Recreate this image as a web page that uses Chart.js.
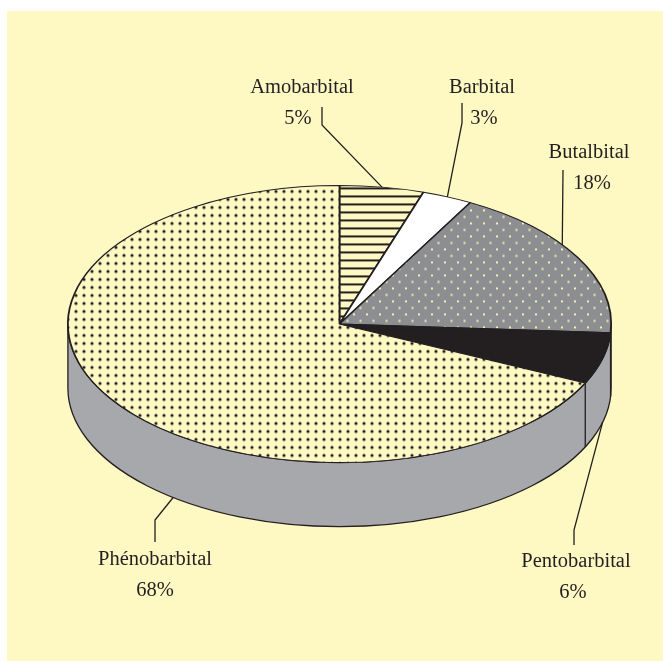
<!DOCTYPE html>
<html>
<head>
<meta charset="utf-8">
<script src="https://cdn.jsdelivr.net/npm/chart.js@4"></script>
<style>
  body { margin: 0; background: #fff; }
  canvas { display: block; }
</style>
</head>
<body>
<canvas id="pie" width="663" height="661"></canvas>
<script>
// données (pourcentages)
const categories = ["Amobarbital", "Barbital", "Butalbital", "Pentobarbital", "Phénobarbital"];
const values = [5, 3, 18, 6, 68];

// mise en page des étiquettes : texte, coude du trait, point d'accroche dans la part
const labelX = [302, 482, 589, 576, 155];
const labelY = [93, 93, 158, 567, 565];
const pctX = [298, 484, 592, 573, 155];
const elbows = [
  [[322, 107], [322, 125]],
  [[462, 103], [462, 123]],
  [[563, 170]],
  [[574, 545], [574, 530]],
  [[155, 542], [155, 520]]
];
const anchorFrac = [0.5, 0.5, 0.406, 0.5, 0.419];
const anchorOnSide = [false, false, false, true, true];

const JAUNE = "#fef8c3";
const NOIR = "#231f20";
const GRIS_COTE = "#a7a8ac";
const GRIS_PART = "#8c8e92";
const CY = 324;          // centre vertical de l'ellipse à l'écran
const TILT = 139 / 272.5; // écrasement vertical
const DEPTH = 64;        // épaisseur du camembert

function motif(w, h, dessin) {
  const c = document.createElement("canvas");
  c.width = w; c.height = h;
  const g = c.getContext("2d");
  dessin(g, w, h);
  const p = g.createPattern(c, "repeat");
  // compenser l'écrasement pour garder des motifs réguliers
  p.setTransform(new DOMMatrix([1, 0, 0, 1 / TILT, 0, 0]));
  return p;
}

const rayures = motif(8, 8, (g, w, h) => {
  g.fillStyle = JAUNE; g.fillRect(0, 0, w, h);
  g.fillStyle = NOIR; g.fillRect(0, 0, w, 2);
});
const blanc = "#ffffff";
const pointsJaunes = motif(13, 13, (g, w, h) => {
  g.fillStyle = GRIS_PART; g.fillRect(0, 0, w, h);
  g.fillStyle = "#f6efb4";
  g.fillRect(2, 2, 2, 2);
  g.fillRect(8.5, 8.5, 2, 2);
});
const noir = NOIR;
const pointsNoirs = motif(8, 8, (g, w, h) => {
  g.fillStyle = JAUNE; g.fillRect(0, 0, w, h);
  g.fillStyle = NOIR;
  g.beginPath(); g.arc(4, 4, 1.6, 0, Math.PI * 2); g.fill();
});

const pie3d = {
  id: "pie3d",
  beforeDraw(chart) {
    const { ctx, width, height } = chart;
    ctx.save();
    ctx.fillStyle = "#ffffff";
    ctx.fillRect(0, 0, width, height);
    ctx.fillStyle = JAUNE;
    ctx.fillRect(7, 11, width - 7, height - 11);
    ctx.restore();
  },
  beforeDatasetsDraw(chart) {
    const { ctx } = chart;
    const arcs = chart.getDatasetMeta(0).data;
    const cx = arcs[0].x, R = arcs[0].outerRadius, ry = R * TILT;

    // côté du cylindre
    ctx.save();
    ctx.beginPath();
    ctx.moveTo(cx + R, CY);
    ctx.lineTo(cx + R, CY + DEPTH);
    ctx.ellipse(cx, CY + DEPTH, R, ry, 0, 0, Math.PI, false);
    ctx.lineTo(cx - R, CY);
    ctx.ellipse(cx, CY, R, ry, 0, Math.PI, 0, true);
    ctx.closePath();
    ctx.fillStyle = GRIS_COTE;
    ctx.fill();
    ctx.strokeStyle = NOIR;
    ctx.lineWidth = 1.3;
    ctx.stroke();

    // limites des parts visibles sur le côté
    arcs.forEach(a => {
      const s = Math.sin(a.startAngle);
      if (s > 0.05) {
        const x = cx + R * Math.cos(a.startAngle);
        const y = CY + ry * s;
        ctx.beginPath();
        ctx.moveTo(x, y);
        ctx.lineTo(x, y + DEPTH);
        ctx.stroke();
      }
    });
    ctx.restore();

    // écrasement vertical du disque
    ctx.save();
    ctx.translate(0, CY);
    ctx.scale(1, TILT);
    ctx.translate(0, -arcs[0].y);
  },
  afterDatasetsDraw(chart) {
    const { ctx } = chart;
    ctx.restore();

    const arcs = chart.getDatasetMeta(0).data;
    const cx = arcs[0].x, R = arcs[0].outerRadius, ry = R * TILT;

    ctx.save();
    ctx.strokeStyle = NOIR;
    ctx.lineWidth = 1.3;
    ctx.fillStyle = NOIR;
    ctx.font = "20.5px 'Liberation Serif', 'DejaVu Serif', serif";
    ctx.textAlign = "center";
    ctx.textBaseline = "alphabetic";

    arcs.forEach((a, i) => {
      const ang = a.startAngle + anchorFrac[i] * (a.endAngle - a.startAngle);
      const ax = cx + R * Math.cos(ang);
      const ay = CY + ry * Math.sin(ang) + (anchorOnSide[i] ? DEPTH : 0);

      ctx.beginPath();
      ctx.moveTo(elbows[i][0][0], elbows[i][0][1]);
      for (let j = 1; j < elbows[i].length; j++) {
        ctx.lineTo(elbows[i][j][0], elbows[i][j][1]);
      }
      ctx.lineTo(ax, ay);
      ctx.stroke();

      ctx.fillText(categories[i], labelX[i], labelY[i]);
      ctx.fillText(values[i] + "%", pctX[i], labelY[i] + 31);
    });
    ctx.restore();
  }
};

new Chart(document.getElementById("pie"), {
  type: "pie",
  data: {
    labels: categories,
    datasets: [{
      data: values,
      backgroundColor: [rayures, blanc, pointsJaunes, noir, pointsNoirs],
      borderColor: NOIR,
      borderWidth: 1.8
    }]
  },
  options: {
    responsive: false,
    animation: false,
    devicePixelRatio: 1,
    events: [],
    layout: { padding: { left: 67, right: 51, top: 58, bottom: 58 } },
    plugins: {
      legend: { display: false },
      tooltip: { enabled: false }
    }
  },
  plugins: [pie3d]
});
</script>
</body>
</html>
